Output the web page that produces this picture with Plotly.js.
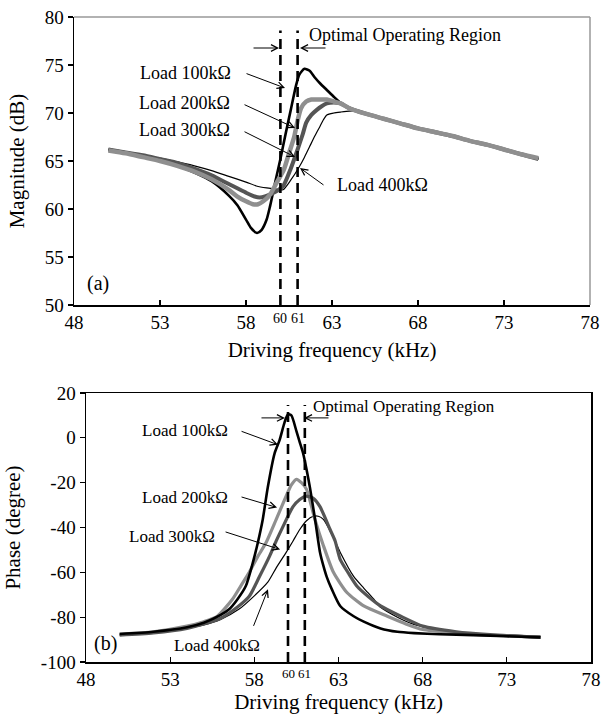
<!DOCTYPE html>
<html>
<head>
<meta charset="utf-8">
<script src="https://cdn.plot.ly/plotly-3.0.1.min.js"></script>
<style>html,body{margin:0;padding:0;background:#fff}#chart{width:601px;height:721px}</style>
</head>
<body>
<div id="chart"></div>
<script>
// ---------- Data (a) Magnitude (dB) ----------
const mag100F = [50,51,52,53,54,55,56,57,57.5,58,58.3,58.64,58.9,59.2,59.4,59.7,60.0,60.3,60.6,60.9,61.1,61.4,61.7,62.0,62.3,62.7,63.1,63.6,64.0,65,66,67,68,69,70,71,72,73,74,75];
const mag100  = [66.2,65.9,65.5,65.0,64.5,63.8,62.9,61.4,60.4,58.9,58.0,57.5,57.8,58.9,60.3,62.8,65.2,67.8,70.3,72.8,74.0,74.6,74.4,73.7,73.1,72.4,71.7,70.9,70.5,69.9,69.4,68.9,68.4,68.0,67.6,67.1,66.7,66.2,65.7,65.2];

const mag200F = [50,51,52,53,54,55,56,57,57.5,58,58.4,58.7,59.0,59.4,59.8,60.2,60.5,60.8,61.0,61.2,61.5,61.8,62.3,62.7,63.1,63.5,64.0,65,66,67,68,69,70,71,72,73,74,75];
const mag200  = [66.1,65.8,65.4,65.0,64.5,63.9,63.1,62.0,61.3,60.8,60.5,60.5,60.8,61.5,62.8,64.1,65.8,67.5,69.2,70.5,71.2,71.4,71.4,71.4,71.2,71.0,70.5,69.9,69.4,68.9,68.4,68.0,67.6,67.1,66.7,66.2,65.7,65.3];

const mag300F = [50,51,52,53,54,55,56,57,58,58.5,58.8,59.1,59.5,59.9,60.2,60.6,61.0,61.3,61.5,61.8,62.1,62.4,62.7,63.1,63.5,64.0,65,66,67,68,69,70,71,72,73,74,75];
const mag300  = [66.2,65.9,65.6,65.2,64.8,64.2,63.5,62.6,61.7,61.3,61.2,61.3,61.6,62.0,62.5,64.2,66.2,67.8,69.0,69.8,70.3,70.7,71.0,71.1,71.0,70.5,69.9,69.4,68.9,68.4,68.0,67.6,67.1,66.7,66.2,65.7,65.2];

const mag400F = [50,51,52,53,54,55,56,57,58,58.6,59.2,59.7,60.15,60.6,61.1,61.4,61.7,62.0,62.3,62.5,62.7,63.1,63.5,64.0,64.5,65,66,67,68,69,70,71,72,73,74,75];
const mag400  = [66.2,65.9,65.6,65.3,64.9,64.5,64.0,63.4,62.8,62.4,62.2,62.1,62.0,63.0,64.4,65.4,66.5,67.6,68.6,69.3,69.8,70.0,70.1,70.2,70.2,69.9,69.4,68.9,68.4,68.0,67.6,67.1,66.7,66.2,65.7,65.2];

// ---------- Data (b) Phase (degree) ----------
const ph100F = [50,52,54,55,56,56.5,57,57.5,57.9,58.2,58.5,58.8,59.2,59.5,59.8,60.0,60.2,60.5,60.7,60.9,61.1,61.3,61.6,61.9,62.1,62.3,62.6,63.1,63.9,64.5,65.5,66.5,67.5,69,71,73,75];
const ph100  = [-87.5,-86.5,-84.5,-82.5,-79,-76.5,-72,-66,-56,-47,-36.4,-22,-7,-1,7,10.5,10,3,-2,-7,-14,-22,-36,-51,-57,-62,-67.5,-75,-79.6,-82,-85,-86.5,-87.1,-87.6,-88,-88.5,-89];

const ph200F = [50,52,54,55,55.8,56.7,57.2,57.7,58.2,58.7,59.3,59.8,60.2,60.5,60.8,61.1,61.6,62.1,62.7,63.5,64.5,65.9,67,68,70,72,75];
const ph200  = [-87.5,-86.5,-84,-82,-79.6,-72,-66,-60,-53,-46.7,-36.4,-27.6,-21,-18.5,-20,-23,-36.4,-48,-60,-69,-75,-79.6,-83,-85.5,-87,-88,-89];

const ph300F = [50,52,54,55,56,57,57.7,58.3,58.9,59.3,59.7,60.3,60.7,61.1,61.5,61.9,62.5,62.8,63.1,63.6,64.1,64.8,65.5,66.7,68,70,72,75];
const ph300  = [-88,-87,-85,-83,-80.5,-75.5,-70.7,-62,-52.9,-46,-39.6,-30.7,-27.5,-26,-27,-30.7,-40.9,-46,-54.2,-60.5,-66.2,-71,-75,-79.6,-84,-86.5,-87.8,-89];

const ph400F = [50,52,54,55,56,57.1,58,58.8,59.3,59.9,60.3,60.7,61.1,61.5,61.8,62.1,62.6,63.1,63.9,64.5,65.1,65.5,66.5,67.4,68.5,69.4,71,73,75];
const ph400  = [-88,-87,-85,-83.5,-81,-76.4,-70.5,-64.4,-58,-51,-46,-40.9,-37,-35,-35,-36.4,-43,-51,-61.8,-67,-72,-75.6,-80,-83,-85,-86.2,-87.3,-88,-88.4];

// ---------- Tick labels ----------
const xTickVals = [48,53,58,63,68,73,78];
const xTickText = ['48','53','58','63','68','73','78'];
const magTickVals = [50,55,60,65,70,75,80];
const magTickText = ['50','55','60','65','70','75','80'];
const phTickVals = [-100,-80,-60,-40,-20,0,20];
const phTickText = ['-100','-80','-60','-40','-20','0','20'];
const optimalBounds = [60,61];
const loadNames = ['Load 100k\u03A9','Load 200k\u03A9','Load 300k\u03A9','Load 400k\u03A9'];

const FONT = 'Liberation Serif';
const W = 601, H = 721;
const px = v => v / W;
const py = v => 1 - v / H;

function tr(x, y, xa, ya, color, width) {
  return {x: x, y: y, xaxis: xa, yaxis: ya, mode: 'lines', type: 'scatter',
    line: {color: color, width: width, shape: 'spline', smoothing: 0.6}, hoverinfo: 'skip'};
}
const C100 = '#000000', C200 = '#8f8f8f', C300 = '#555555', C400 = '#000000';
const data = [
  tr(mag100F, mag100, 'x', 'y', C100, 2.6),
  tr(mag400F, mag400, 'x', 'y', C400, 1.2),
  tr(mag300F, mag300, 'x', 'y', C300, 4),
  tr(mag200F, mag200, 'x', 'y', C200, 4.5),
  tr(ph400F, ph400, 'x2', 'y2', C400, 1.2),
  tr(ph200F, ph200, 'x2', 'y2', C200, 3.2),
  tr(ph300F, ph300, 'x2', 'y2', C300, 3.2),
  tr(ph100F, ph100, 'x2', 'y2', C100, 2.6)
];

const axBase = {showgrid: false, zeroline: false, showline: true, linecolor: '#000', linewidth: 1.5,
  tickfont: {family: FONT, size: 19, color: '#000'}, tickcolor: '#000', ticklen: 5, tickwidth: 1.2, automargin: false};

const layout = {
  width: W, height: H, margin: {l: 0, r: 0, t: 0, b: 0},
  paper_bgcolor: '#fff', plot_bgcolor: '#fff', showlegend: false,
  font: {family: FONT, color: '#000'},
  xaxis: Object.assign({}, axBase, {domain: [px(74), px(590)], range: [48, 78], anchor: 'y',
    tickvals: xTickVals, ticktext: xTickText, ticks: 'inside',
    title: {text: 'Driving frequency (kHz)', font: {family: FONT, size: 21}, standoff: 10}}),
  yaxis: Object.assign({}, axBase, {domain: [py(305), py(17)], range: [50, 80], anchor: 'x',
    tickvals: magTickVals, ticktext: magTickText, ticks: 'outside',
    title: {text: 'Magnitude (dB)', font: {family: FONT, size: 21}, standoff: 14}}),
  xaxis2: Object.assign({}, axBase, {domain: [px(86), px(591)], range: [48, 78], anchor: 'y2', mirror: true,
    tickvals: xTickVals, ticktext: xTickText, ticks: 'inside',
    title: {text: 'Driving frequency (kHz)', font: {family: FONT, size: 21}, standoff: 3}}),
  yaxis2: Object.assign({}, axBase, {domain: [py(662), py(393)], range: [-100, 20], anchor: 'x2', mirror: true,
    tickvals: phTickVals, ticktext: phTickText, ticks: 'outside',
    title: {text: 'Phase (degree)', font: {family: FONT, size: 21}, standoff: 14}}),
  shapes: [],
  annotations: []
};

// top plot grey top/right border
layout.shapes.push({type: 'line', xref: 'x domain', yref: 'y domain', x0: 0, x1: 1, y0: 1, y1: 1, line: {color: '#999', width: 1.5}});
layout.shapes.push({type: 'line', xref: 'x domain', yref: 'y domain', x0: 1, x1: 1, y0: 0, y1: 1, line: {color: '#999', width: 1.5}});
// dashed optimal region lines
optimalBounds.forEach(f => {
  layout.shapes.push({type: 'line', xref: 'x', yref: 'y', x0: f, x1: f, y0: 50, y1: 78.6, line: {color: '#000', width: 2.6, dash: '10px,6px'}});
  layout.shapes.push({type: 'line', xref: 'x2', yref: 'y2', x0: f, x1: f, y0: -100, y1: 14.7, line: {color: '#000', width: 2.6, dash: '10px,6px'}});
});

function txt(x, y, s, anchor, size) {
  layout.annotations.push({xref: 'paper', yref: 'paper', x: px(x), y: py(y), text: s, showarrow: false,
    xanchor: anchor, yanchor: 'middle', font: {family: FONT, size: size, color: '#000'}});
}
function arr(xr, yr, x, y, ax, ay) {
  layout.annotations.push({xref: xr, yref: yr, x: x, y: y, ax: ax, ay: ay, text: '', showarrow: true,
    arrowhead: 5, arrowsize: 1.3, arrowwidth: 1, arrowcolor: '#000', standoff: 0, startstandoff: 0});
}

// ---- top plot annotations ----
txt(307, 35, 'Optimal Operating Region', 'left', 18);
txt(233, 73, loadNames[0], 'right', 18);
txt(232, 103, loadNames[1], 'right', 18);
txt(232, 130, loadNames[2], 'right', 18);
txt(335, 185, loadNames[3], 'left', 18);
txt(85, 283, '(a)', 'left', 20);
arr('x', 'y', 59.92, 76.77, -27, 0);
arr('x', 'y', 61.14, 76.77, 27, 0);
arr('x', 'y', 60.27, 72.6, -40, -15);
arr('x', 'y', 60.85, 68.44, -52, -24);
arr('x', 'y', 60.85, 65.42, -52, -26);
arr('x', 'y', 61.14, 64.27, 25, 18);
optimalBounds.forEach(f => {
  layout.annotations.push({xref: 'x', yref: 'paper', x: f, y: py(318), text: String(f), showarrow: false,
    xanchor: 'center', yanchor: 'middle', font: {family: FONT, size: 14, color: '#000'}});
  layout.annotations.push({xref: 'x2', yref: 'paper', x: f, y: py(673), text: String(f), showarrow: false,
    xanchor: 'center', yanchor: 'middle', font: {family: FONT, size: 13, color: '#000'}});
});

// ---- bottom plot annotations ----
txt(311, 406, 'Optimal Operating Region', 'left', 17);
txt(230, 431, loadNames[0], 'right', 17);
txt(230, 497, loadNames[1], 'right', 17);
txt(217, 536, loadNames[2], 'right', 17);
txt(217, 645, loadNames[3], 'center', 17);
txt(92, 643, '(b)', 'left', 20);
arr('x2', 'y2', 59.82, 8.89, -25, 0);
arr('x2', 'y2', 60.95, 8.89, 26, 0);
arr('x2', 'y2', 59.41, -3.1, -38, -14);
arr('x2', 'y2', 59.35, -31.1, -37, -11);
arr('x2', 'y2', 59.53, -49.8, -56, -18);
arr('x2', 'y2', 58.81, -67.6, -15, 38);

Plotly.newPlot('chart', data, layout, {staticPlot: true, displayModeBar: false});
</script>
</body>
</html>
